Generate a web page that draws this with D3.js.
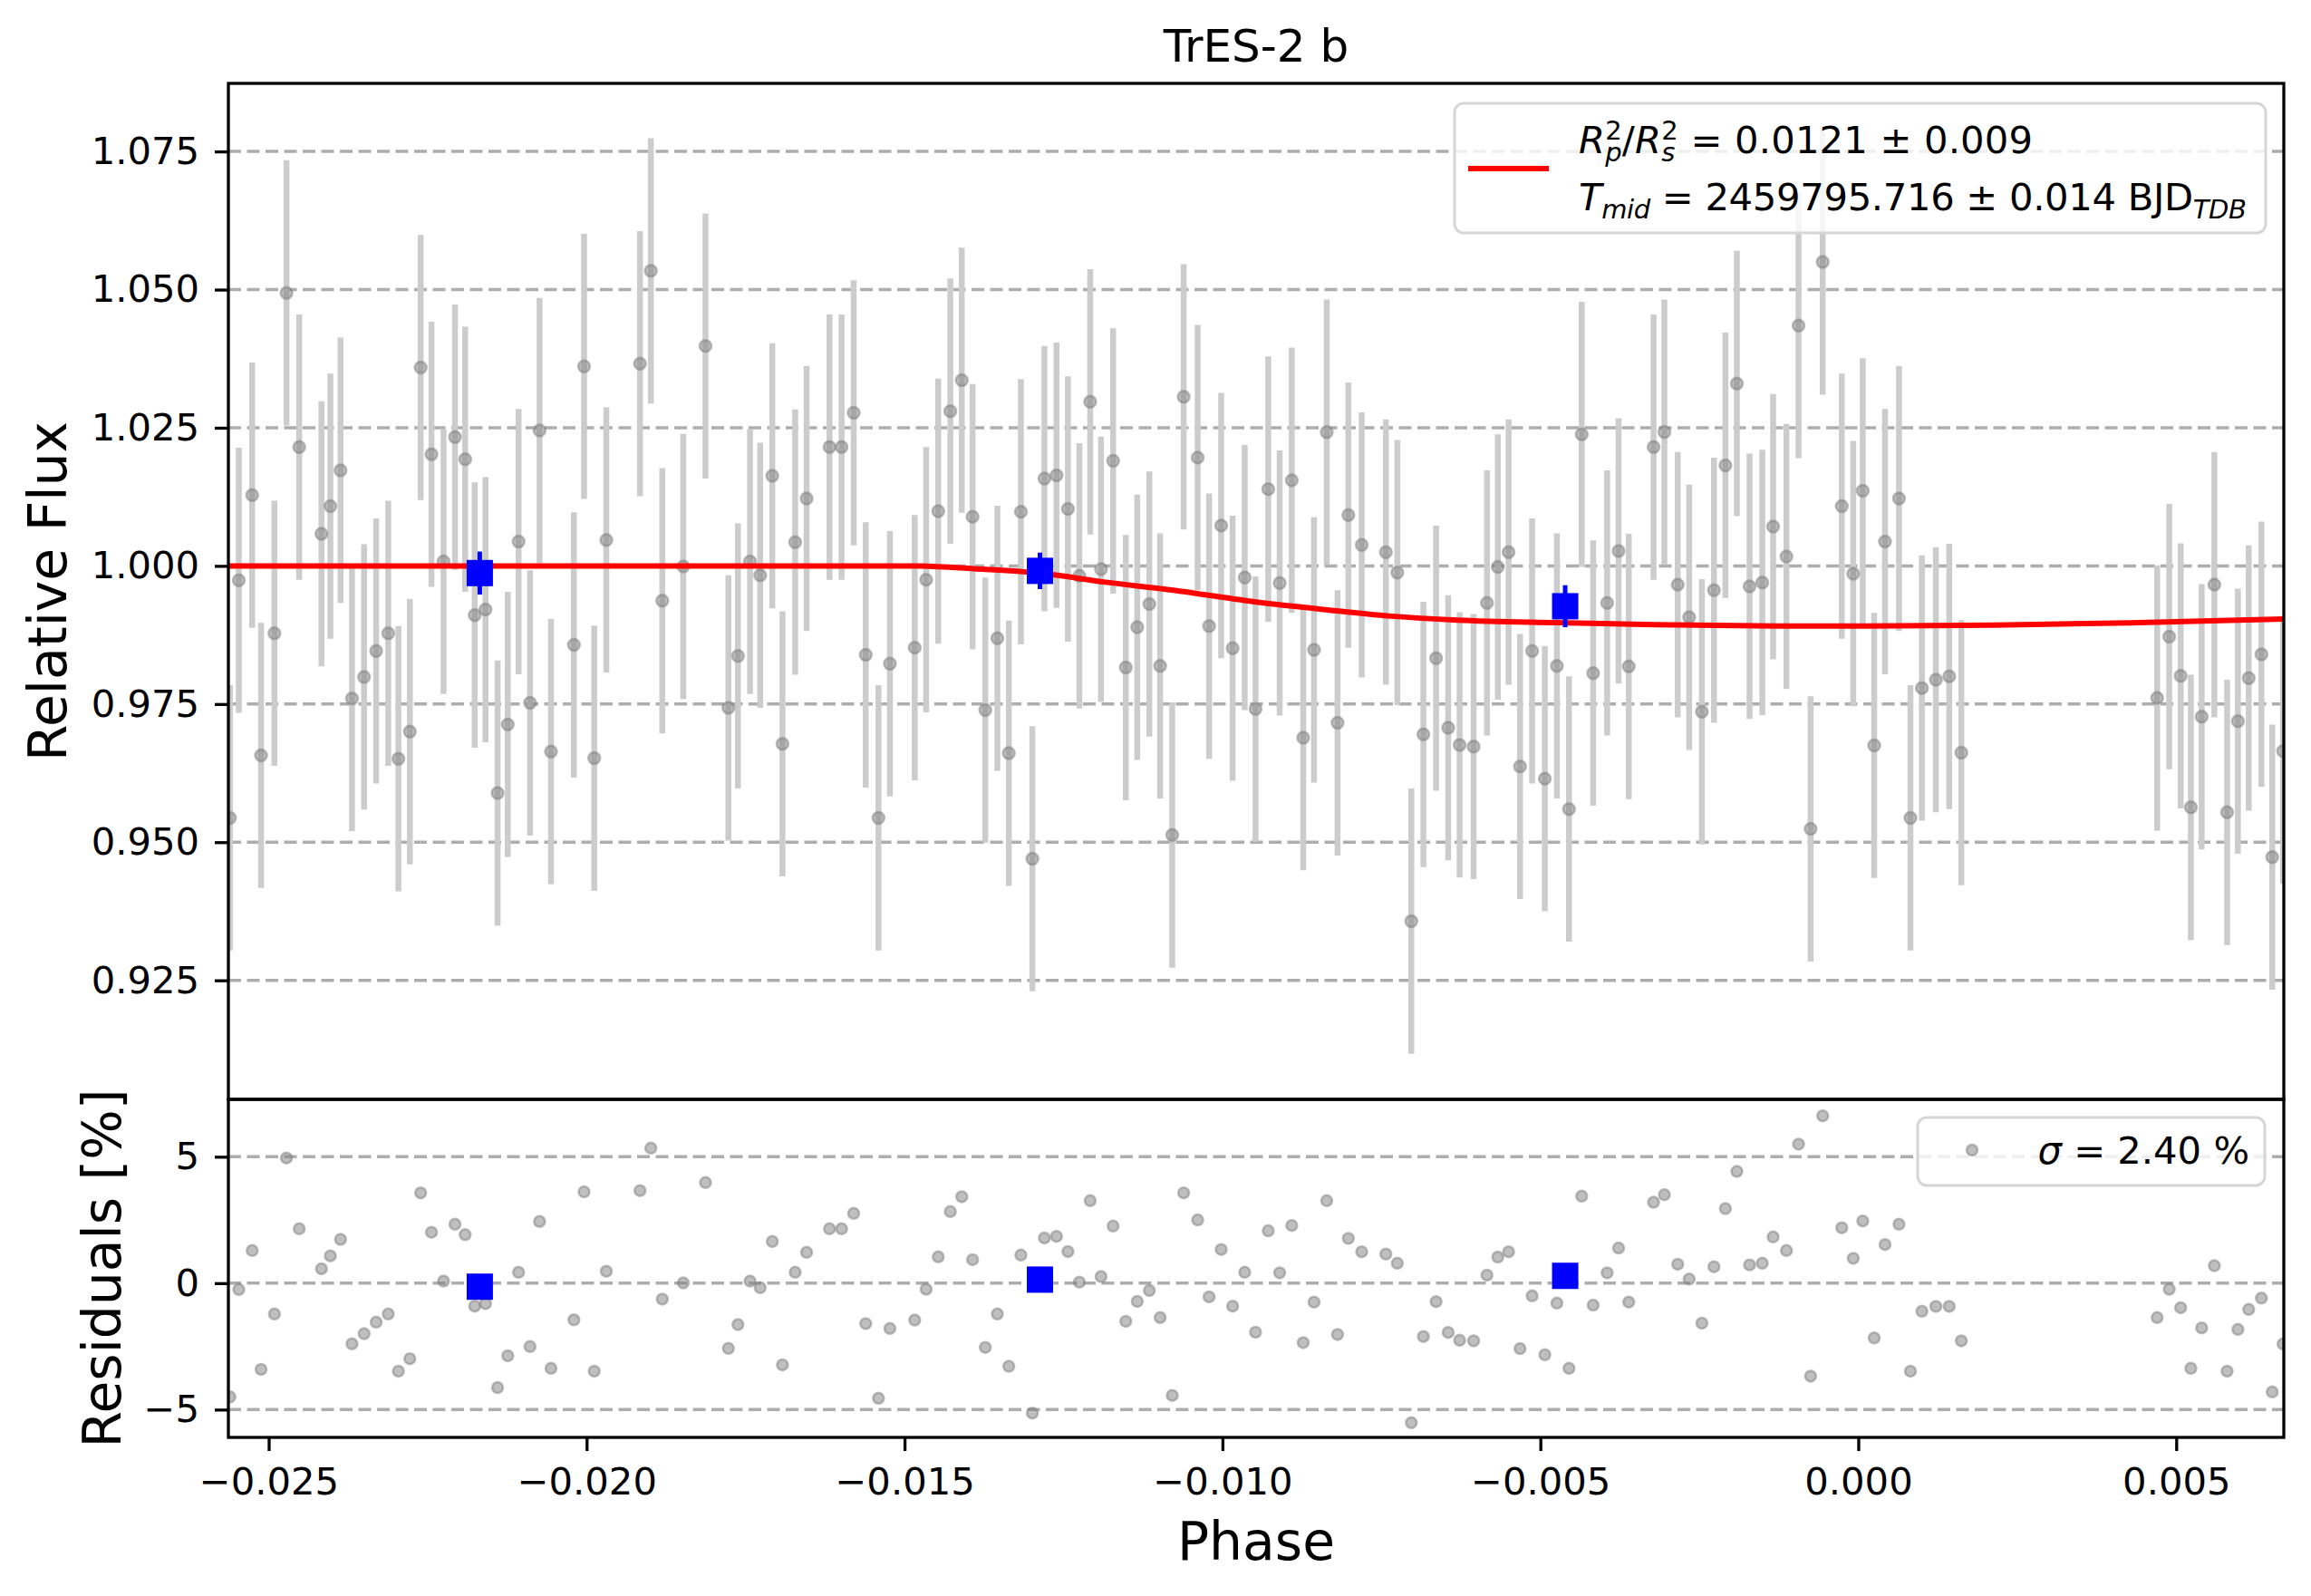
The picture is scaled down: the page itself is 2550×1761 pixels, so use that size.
<!DOCTYPE html>
<html lang="en">
<head>
<meta charset="UTF-8">
<title>TrES-2 b</title>
<script src="https://d3js.org/d3.v7.min.js"></script>
<style>
body { margin: 0; background: #fff; overflow: hidden; }
svg { display: block; font-family: "DejaVu Sans", sans-serif; }
</style>
</head>
<body>
<svg id="chart" width="2550" height="1761"></svg>
<script>
// phase of each exposure
const phase = [
  -0.02561, -0.02547, -0.02526, -0.02512, -0.02491, -0.02472, -0.02452, -0.02417, -0.02403, -0.02387,
  -0.02369, -0.02350, -0.02331, -0.02312, -0.02296, -0.02278, -0.02261, -0.02244, -0.02225, -0.02207,
  -0.02191, -0.02176, -0.02159, -0.02140, -0.02124, -0.02107, -0.02089, -0.02074, -0.02056, -0.02020,
  -0.02004, -0.01988, -0.01969, -0.01916, -0.01899, -0.01881, -0.01848, -0.01813, -0.01777, -0.01762,
  -0.01743, -0.01727, -0.01708, -0.01692, -0.01672, -0.01654, -0.01618, -0.01599, -0.01580, -0.01561,
  -0.01541, -0.01523, -0.01484, -0.01466, -0.01447, -0.01428, -0.01410, -0.01393, -0.01373, -0.01354,
  -0.01336, -0.01317, -0.01299, -0.01280, -0.01261, -0.01243, -0.01225, -0.01208, -0.01191, -0.01172,
  -0.01152, -0.01134, -0.01115, -0.01098, -0.01079, -0.01061, -0.01039, -0.01021, -0.01002, -0.00984,
  -0.00965, -0.00948, -0.00928, -0.00910, -0.00891, -0.00873, -0.00856, -0.00836, -0.00819, -0.00802,
  -0.00781, -0.00743, -0.00725, -0.00703, -0.00684, -0.00664, -0.00645, -0.00627, -0.00605, -0.00584,
  -0.00567, -0.00550, -0.00532, -0.00513, -0.00493, -0.00474, -0.00455, -0.00435, -0.00417, -0.00395,
  -0.00377, -0.00361, -0.00322, -0.00305, -0.00284, -0.00266, -0.00246, -0.00227, -0.00209, -0.00191,
  -0.00171, -0.00151, -0.00134, -0.00113, -0.00094, -0.00075, -0.00056, -0.00026, -0.00008, 0.00007,
  0.00025, 0.00042, 0.00064, 0.00082, 0.00100, 0.00122, 0.00143, 0.00162, 0.00470, 0.00489,
  0.00507, 0.00523, 0.00540, 0.00560, 0.00580, 0.00597, 0.00614, 0.00634, 0.00651, 0.00668
];

const flux = [
  0.9544, 0.9974, 1.0128, 0.9657, 0.9878, 1.0494, 1.0215, 1.0058, 1.0108, 1.0173,
  0.9760, 0.9799, 0.9846, 0.9878, 0.9651, 0.9700, 1.0359, 1.0202, 1.0008, 1.0233,
  1.0193, 0.9911, 0.9921, 0.9589, 0.9713, 1.0044, 0.9752, 1.0245, 0.9664, 0.9857,
  1.0361, 0.9652, 1.0047, 1.0366, 1.0534, 0.9937, 0.9999, 1.0398, 0.9743, 0.9837,
  1.0008, 0.9983, 1.0163, 0.9678, 1.0043, 1.0122, 1.0215, 1.0215, 1.0277, 0.9839,
  0.9544, 0.9823, 0.9852, 0.9975, 1.0099, 1.0280, 1.0336, 1.0089, 0.9739, 0.9869,
  0.9661, 1.0098, 0.9470, 1.0158, 1.0164, 1.0103, 0.9982, 1.0297, 0.9994, 1.0190,
  0.9816, 0.9889, 0.9931, 0.9819, 0.9513, 1.0306, 1.0196, 0.9891, 1.0073, 0.9851,
  0.9979, 0.9741, 1.0139, 0.9969, 1.0155, 0.9689, 0.9848, 1.0242, 0.9716, 1.0092,
  1.0038, 1.0025, 0.9988, 0.9357, 0.9695, 0.9833, 0.9707, 0.9676, 0.9673, 0.9933,
  0.9998, 1.0025, 0.9637, 0.9846, 0.9615, 0.9819, 0.9560, 1.0238, 0.9806, 0.9933,
  1.0027, 0.9818, 1.0215, 1.0242, 0.9966, 0.9907, 0.9736, 0.9956, 1.0182, 1.0330,
  0.9963, 0.9970, 1.0071, 1.0017, 1.0435, 0.9524, 1.0550, 1.0108, 0.9986, 1.0136,
  0.9675, 1.0044, 1.0122, 0.9544, 0.9779, 0.9794, 0.9800, 0.9662, 0.9761, 0.9872,
  0.9801, 0.9563, 0.9727, 0.9966, 0.9554, 0.9719, 0.9797, 0.9840, 0.9473, 0.9665
];

const fluxErr = 0.024;

// residuals in percent
const resid = [
  -4.50, -0.25, 1.29, -3.41, -1.22, 4.95, 2.15, 0.57, 1.08, 1.73,
  -2.40, -2.00, -1.54, -1.22, -3.48, -2.99, 3.57, 2.01, 0.08, 2.33,
  1.92, -0.91, -0.81, -4.13, -2.87, 0.43, -2.51, 2.44, -3.37, -1.45,
  3.61, -3.48, 0.47, 3.66, 5.34, -0.63, 0.01, 3.98, -2.58, -1.64,
  0.08, -0.18, 1.65, -3.23, 0.43, 1.22, 2.15, 2.15, 2.76, -1.60,
  -4.55, -1.79, -1.46, -0.24, 1.04, 2.83, 3.42, 0.93, -2.54, -1.22,
  -3.29, 1.11, -5.14, 1.79, 1.85, 1.25, 0.04, 3.26, 0.26, 2.26,
  -1.51, -0.72, -0.29, -1.36, -4.44, 3.57, 2.50, -0.54, 1.33, -0.91,
  0.43, -1.94, 2.07, 0.41, 2.28, -2.35, -0.75, 3.26, -2.03, 1.77,
  1.24, 1.15, 0.79, -5.52, -2.11, -0.73, -1.95, -2.26, -2.28, 0.32,
  1.03, 1.24, -2.59, -0.50, -2.83, -0.79, -3.37, 3.44, -0.87, 0.41,
  1.39, -0.75, 3.20, 3.50, 0.75, 0.16, -1.58, 0.65, 2.95, 4.42,
  0.72, 0.79, 1.83, 1.29, 5.50, -3.68, 6.62, 2.19, 0.98, 2.46,
  -2.17, 1.53, 2.33, -3.48, -1.11, -0.92, -0.92, -2.28, -1.36, -0.24,
  -0.97, -3.37, -1.77, 0.69, -3.48, -1.83, -1.04, -0.59, -4.30, -2.40
];

// binned points
const binPhase = [-0.02168, -0.01287, -0.00461];
const binFlux = [0.9987, 0.9991, 0.9927];
const binErr = [0.0039, 0.0033, 0.0038];
const binResid = [-0.14, 0.14, 0.29];

// transit model
const modelPhase = [-0.02563, -0.01484, -0.01391, -0.01288, -0.01184, -0.01080, -0.00941, -0.00838,
  -0.00734, -0.00631, -0.00475, -0.00320, -0.00129, -0.00001, 0.00213, 0.00427, 0.00669];
const modelFlux = [1.0000, 1.0000, 0.9995, 0.9987, 0.99705, 0.99563, 0.99338, 0.99208,
  0.9909, 0.9902, 0.98972, 0.98936, 0.98913, 0.9891, 0.9893, 0.9897, 0.9904];

const fluxTicks = [0.925, 0.950, 0.975, 1.000, 1.025, 1.050, 1.075];
const residTicks = [-5, 0, 5];
const phaseTicks = [-0.025, -0.020, -0.015, -0.010, -0.005, 0.000, 0.005];

const legendModel = { rp: '0.0121', rpErr: '0.009', tmid: '2459795.716', tmidErr: '0.014' };
const sigmaText = '2.40';

// layout
const plotL = 252, plotR = 2520, plotT = 92, plotMid = 1213, plotB = 1586;
const fs = 41.7;

const svg = d3.select('#chart');

const x = d3.scaleLinear().domain([-0.025634, 0.006692]).range([plotL, plotR]);
const yF = d3.scaleLinear().domain([0.90346, 1.08732]).range([plotMid, plotT]);
const yR = d3.scaleLinear().domain([-6.10, 7.27]).range([plotB, plotMid]);

const defs = svg.append('defs');
defs.append('clipPath').attr('id', 'clipTop')
  .append('rect').attr('x', plotL).attr('y', plotT).attr('width', plotR - plotL).attr('height', plotMid - plotT);
defs.append('clipPath').attr('id', 'clipBot')
  .append('rect').attr('x', plotL).attr('y', plotMid).attr('width', plotR - plotL).attr('height', plotB - plotMid);

// grid lines
let drawGrid = (ticks, y) => {
  svg.append('g').selectAll('line').data(ticks).enter().append('line')
    .attr('x1', plotL).attr('x2', plotR)
    .attr('y1', d => y(d)).attr('y2', d => y(d))
    .attr('stroke', '#adadad').attr('stroke-width', 3.5)
    .attr('stroke-dasharray', '14,6.5');
};
drawGrid(fluxTicks, yF);
drawGrid(residTicks, yR);

const pts = phase.map((p, i) => ({ p: p, f: flux[i], r: resid[i] }));

// top panel
const gTop = svg.append('g').attr('clip-path', 'url(#clipTop)');
gTop.selectAll('line.err').data(pts).enter().append('line')
  .attr('class', 'err')
  .attr('x1', d => x(d.p)).attr('x2', d => x(d.p))
  .attr('y1', d => yF(d.f - fluxErr)).attr('y2', d => yF(d.f + fluxErr))
  .attr('stroke', '#cccccc').attr('stroke-width', 6.5);
gTop.selectAll('circle').data(pts).enter().append('circle')
  .attr('cx', d => x(d.p)).attr('cy', d => yF(d.f)).attr('r', 6.5)
  .attr('fill', '#808080').attr('fill-opacity', 0.5)
  .attr('stroke', '#808080').attr('stroke-opacity', 0.5).attr('stroke-width', 2.5);

const model = modelPhase.map((p, i) => [p, modelFlux[i]]);
gTop.append('path').datum(model)
  .attr('d', d3.line().x(d => x(d[0])).y(d => yF(d[1])).curve(d3.curveMonotoneX))
  .attr('fill', 'none').attr('stroke', '#ff0000').attr('stroke-width', 6);

const bins = binPhase.map((p, i) => ({ p: p, f: binFlux[i], e: binErr[i], r: binResid[i] }));
gTop.selectAll('line.binerr').data(bins).enter().append('line')
  .attr('class', 'binerr')
  .attr('x1', d => x(d.p)).attr('x2', d => x(d.p))
  .attr('y1', d => yF(d.f - d.e)).attr('y2', d => yF(d.f + d.e))
  .attr('stroke', '#0000ff').attr('stroke-width', 5);
gTop.selectAll('rect.bin').data(bins).enter().append('rect')
  .attr('class', 'bin')
  .attr('x', d => x(d.p) - 14.5).attr('y', d => yF(d.f) - 14.5)
  .attr('width', 29).attr('height', 29).attr('fill', '#0000ff');

// bottom panel
const gBot = svg.append('g').attr('clip-path', 'url(#clipBot)');
gBot.selectAll('circle').data(pts).enter().append('circle')
  .attr('cx', d => x(d.p)).attr('cy', d => yR(d.r)).attr('r', 6)
  .attr('fill', '#808080').attr('fill-opacity', 0.5)
  .attr('stroke', '#808080').attr('stroke-opacity', 0.5).attr('stroke-width', 2.5);
gBot.selectAll('rect.bin').data(bins).enter().append('rect')
  .attr('class', 'bin')
  .attr('x', d => x(d.p) - 14.5).attr('y', d => yR(d.r) - 14.5)
  .attr('width', 29).attr('height', 29).attr('fill', '#0000ff');

// axes
let styleAxis = (g) => {
  g.select('.domain').remove();
  g.selectAll('.tick line').attr('stroke', '#000').attr('stroke-width', 3.3);
  g.selectAll('.tick text').attr('font-size', fs).attr('fill', '#000')
    .attr('font-family', '"DejaVu Sans", sans-serif');
};

svg.append('g').attr('transform', `translate(${plotL},0)`)
  .call(d3.axisLeft(yF).tickValues(fluxTicks).tickFormat(d3.format('.3f')).tickSize(15).tickPadding(17))
  .call(styleAxis);
svg.append('g').attr('transform', `translate(${plotL},0)`)
  .call(d3.axisLeft(yR).tickValues(residTicks).tickFormat(d3.format('d')).tickSize(15).tickPadding(17))
  .call(styleAxis);
svg.append('g').attr('transform', `translate(0,${plotB})`)
  .call(d3.axisBottom(x).tickValues(phaseTicks).tickFormat(d3.format('.3f')).tickSize(15).tickPadding(18))
  .call(styleAxis);

// frames
svg.append('rect').attr('x', plotL).attr('y', plotT).attr('width', plotR - plotL).attr('height', plotMid - plotT)
  .attr('fill', 'none').attr('stroke', '#000').attr('stroke-width', 3.3);
svg.append('rect').attr('x', plotL).attr('y', plotMid).attr('width', plotR - plotL).attr('height', plotB - plotMid)
  .attr('fill', 'none').attr('stroke', '#000').attr('stroke-width', 3.3);

// titles and labels
svg.append('text').attr('x', (plotL + plotR) / 2).attr('y', 68)
  .attr('text-anchor', 'middle').attr('font-size', 50).text('TrES-2 b');
svg.append('text').attr('transform', `translate(73,${(plotT + plotMid) / 2}) rotate(-90)`)
  .attr('text-anchor', 'middle').attr('font-size', 58.3).text('Relative Flux');
svg.append('text').attr('transform', `translate(133,${(plotMid + plotB) / 2}) rotate(-90)`)
  .attr('text-anchor', 'middle').attr('font-size', 58.3).text('Residuals [%]');
svg.append('text').attr('x', (plotL + plotR) / 2).attr('y', 1721)
  .attr('text-anchor', 'middle').attr('font-size', 58.3).text('Phase');

// model legend
const leg = svg.append('g');
leg.append('rect').attr('x', 1605).attr('y', 114).attr('width', 895).attr('height', 143).attr('rx', 10)
  .attr('fill', '#fff').attr('fill-opacity', 0.8).attr('stroke', '#d6d6d6').attr('stroke-width', 3);
leg.append('line').attr('x1', 1620).attr('x2', 1709).attr('y1', 186).attr('y2', 186)
  .attr('stroke', '#ff0000').attr('stroke-width', 6);

const small = 29;
const t1 = leg.append('text').attr('x', 1742).attr('y', 169).attr('font-size', fs)
  .attr('textLength', 501).attr('lengthAdjust', 'spacing');
t1.append('tspan').attr('font-style', 'italic').text('R');
t1.append('tspan').attr('font-size', small).attr('dy', -15).text('2');
t1.append('tspan').attr('font-size', small).attr('font-style', 'italic').attr('dx', -18.5).attr('dy', 24).text('p');
t1.append('tspan').attr('dy', -9).text('/');
t1.append('tspan').attr('font-style', 'italic').text('R');
t1.append('tspan').attr('font-size', small).attr('dy', -15).text('2');
t1.append('tspan').attr('font-size', small).attr('font-style', 'italic').attr('dx', -18.5).attr('dy', 24).text('s');
t1.append('tspan').attr('dy', -9).attr('dx', 3.5).text('\u00a0=\u00a0' + legendModel.rp + '\u00a0±\u00a0' + legendModel.rpErr);

const t2 = leg.append('text').attr('x', 1742).attr('y', 232).attr('font-size', fs)
  .attr('textLength', 737).attr('lengthAdjust', 'spacing');
t2.append('tspan').attr('font-style', 'italic').text('T');
t2.append('tspan').attr('font-size', small).attr('font-style', 'italic').attr('dy', 9).text('mid');
t2.append('tspan').attr('dy', -9).text('\u00a0=\u00a0' + legendModel.tmid + '\u00a0±\u00a0' + legendModel.tmidErr + '\u00a0BJD');
t2.append('tspan').attr('font-size', small).attr('font-style', 'italic').attr('dy', 9).text('TDB');

// residual legend
const leg2 = svg.append('g');
leg2.append('rect').attr('x', 2116).attr('y', 1233).attr('width', 383).attr('height', 75).attr('rx', 10)
  .attr('fill', '#fff').attr('fill-opacity', 0.8).attr('stroke', '#d6d6d6').attr('stroke-width', 3);
leg2.append('circle').attr('cx', 2176).attr('cy', 1269).attr('r', 6)
  .attr('fill', '#808080').attr('fill-opacity', 0.5)
  .attr('stroke', '#808080').attr('stroke-opacity', 0.5).attr('stroke-width', 2.5);
const t3 = leg2.append('text').attr('x', 2482).attr('y', 1284).attr('font-size', fs).attr('text-anchor', 'end');
t3.append('tspan').attr('font-style', 'italic').text('σ');
t3.append('tspan').text('\u00a0=\u00a0' + sigmaText + '\u00a0%');
</script>
</body>
</html>
